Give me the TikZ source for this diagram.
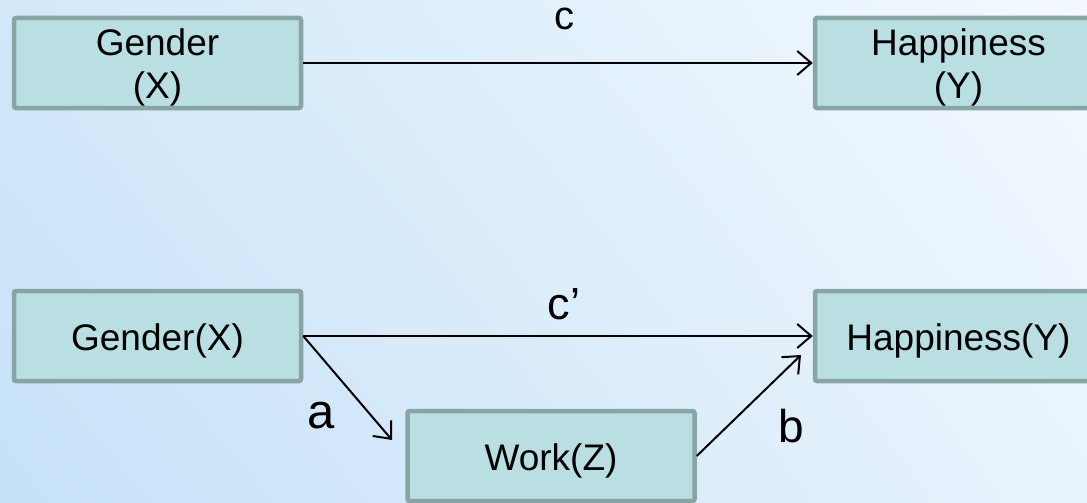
\documentclass[tikz,border=0pt]{standalone}
\usepackage{fontspec}
\setmainfont{Liberation Sans}
\usetikzlibrary{arrows.meta,shadings}
\definecolor{boxfill}{HTML}{B9DFE2}
\definecolor{boxline}{HTML}{88A4A4}
\definecolor{bgul}{HTML}{D2E8F9}
\definecolor{bgll}{HTML}{C6E1F8}
\definecolor{bgur}{HTML}{F3F9FE}
\definecolor{bglr}{HTML}{E8F3FC}
\tikzset{
  varbox/.style={draw=boxline, fill=boxfill, line width=4.5pt, rounded corners=2pt,
    minimum width=287pt, minimum height=90pt, inner sep=0pt, align=center,
    font=\fontsize{37}{43}\selectfont},
  twoline/.style={text height=78pt, text depth=8pt},
  oneline/.style={text height=30pt, text depth=2pt},
  conn/.style={line width=2pt, -{Straight Barb[length=14pt,width=24pt,line width=2pt]}},
  lbl/.style={anchor=base, inner sep=0pt}
}
\begin{document}
\begin{tikzpicture}[x=1pt,y=-1pt]
\useasboundingbox (0,0) rectangle (1087,503);
\clip (0,0) rectangle (1087,503);
\shade[upper left=bgul, lower left=bgll, upper right=bgur, lower right=bglr] (0,0) rectangle (1087,503);
% top model
\node[varbox, twoline] (gx1) at (157.5,63) {Gender\\(X)};
\node[varbox, twoline] (hy1) at (958.5,63) {Happiness\\(Y)};
\draw[conn] (gx1.east) -- (hy1.west);
\node[lbl, font=\fontsize{40}{40}\selectfont] (lc) at (564,30) {c};
% bottom model
\node[varbox, oneline] (gx2) at (157.5,336) {Gender(X)};
\node[varbox, oneline] (hy2) at (958.5,336) {Happiness(Y)};
\node[varbox, oneline] (wz) at (551,456) {Work(Z)};
\coordinate (atip) at (392,440);
\coordinate (btip) at (801,355);
\draw[conn] (gx2.east) -- (hy2.west);
\draw[conn] (gx2.east) -- (atip);
\draw[conn] (wz.east) -- (btip);
\node[lbl, font=\fontsize{45}{45}\selectfont] (lcp) at (564,319) {c’};
\node[lbl, font=\fontsize{49}{49}\selectfont] (la) at (321,428) {a};
\node[lbl, font=\fontsize{46}{46}\selectfont] (lb) at (791,442) {b};
\end{tikzpicture}
\end{document}
